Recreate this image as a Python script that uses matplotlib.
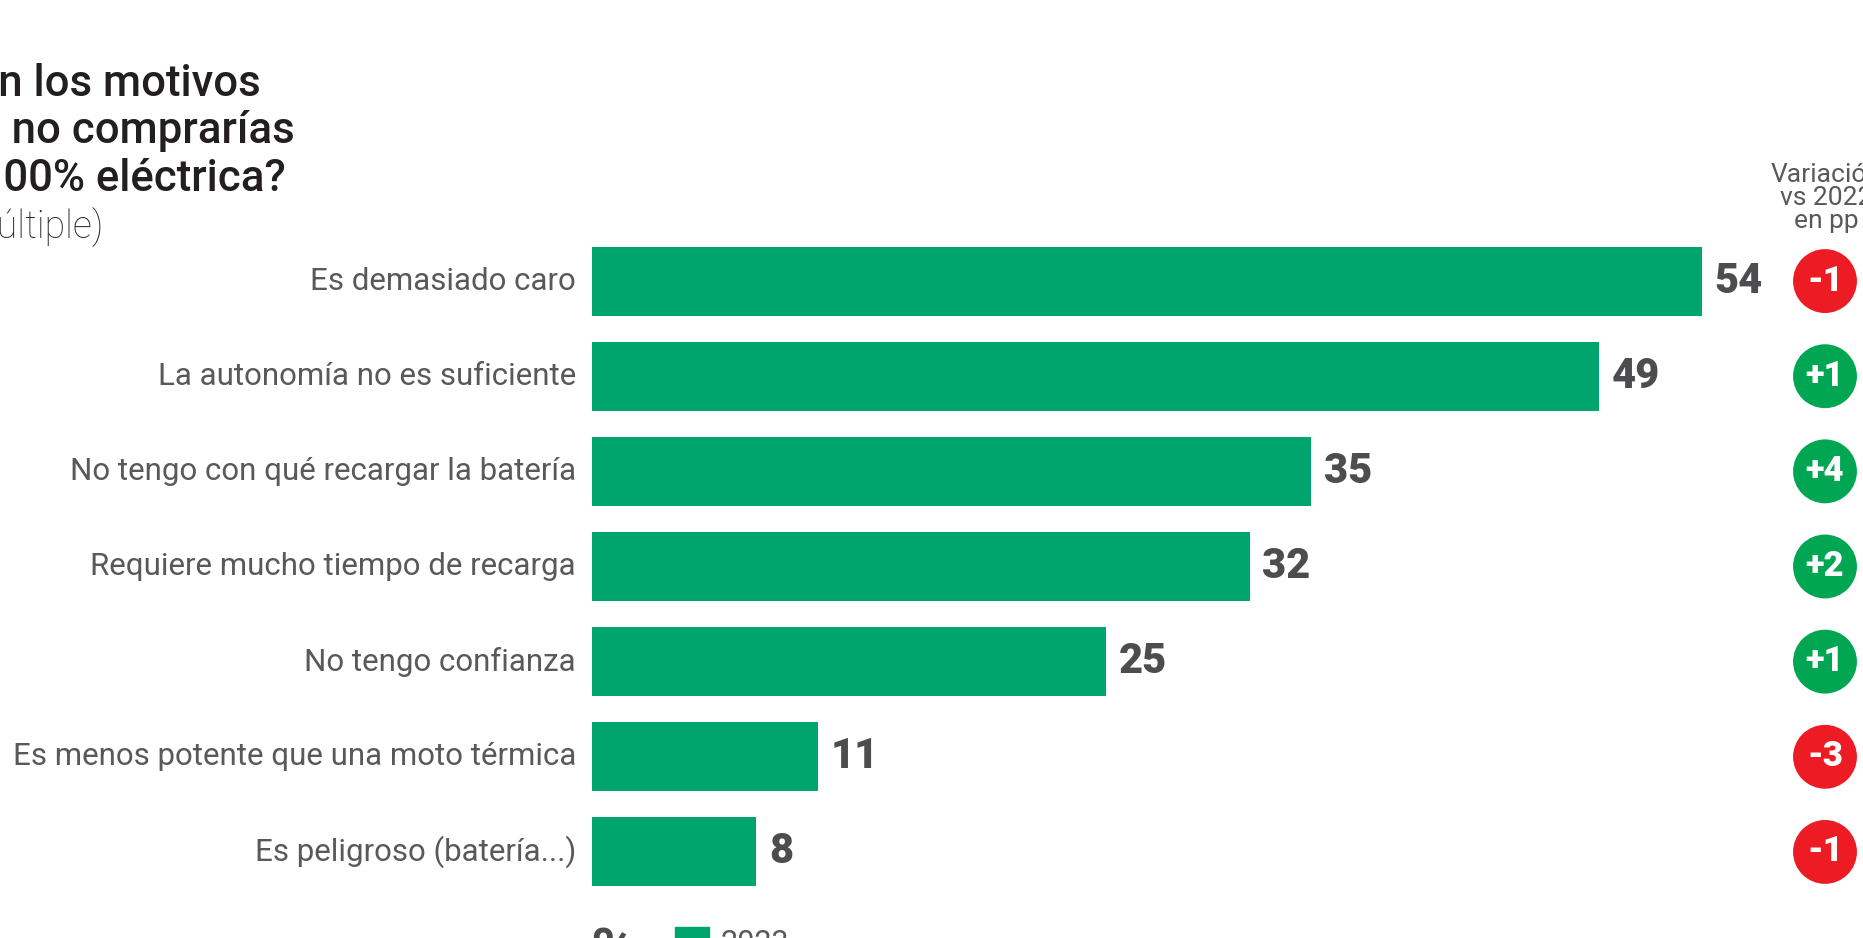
import matplotlib
matplotlib.use("Agg")
import matplotlib.pyplot as plt
from matplotlib.patches import Rectangle

plt.rcParams["font.family"] = ["Roboto", "DejaVu Sans"]

# datos
motivos = [
    "Es demasiado caro",
    "La autonomía no es suficiente",
    "No tengo con qué recargar la batería",
    "Requiere mucho tiempo de recarga",
    "No tengo confianza",
    "Es menos potente que una moto térmica",
    "Es peligroso (batería...)",
]
valores_2023 = [54, 49, 35, 32, 25, 11, 8]
variacion = [-1, 1, 4, 2, 1, -3, -1]

titulo = ["¿Cuáles son los motivos", "por los que no comprarías", "una moto 100% eléctrica?"]
subtitulo = "(Respuesta múltiple)"

# colores
verde_barra = "#00A56E"
verde = "#00A651"
rojo = "#ED1C24"
gris = "#58595B"
oscuro = "#231F20"

W, H = 1863, 938
fig = plt.figure(figsize=(W / 100, H / 100), dpi=100)


def fx(x):
    return x / W


def fy(y):
    return 1 - y / H


# ejes: x=0 en 592px, 54 -> ~1701px; filas de 281 a 852px
ax = fig.add_axes([fx(592), fy(899.5), (1701.7 - 592) / W, (899.5 - 233.5) / H])
filas = list(range(len(motivos)))
ax.barh(filas, valores_2023, height=0.725, color=verde_barra)
ax.set_xlim(0, 54)
ax.set_ylim(6.5, -0.5)
ax.set_yticks(filas, labels=motivos)
ax.tick_params(axis="y", length=0, pad=11.5, labelsize=22.5, labelcolor=gris)
for t in ax.get_yticklabels():
    t.set_verticalalignment("center")
ax.set_xticks([])
for s in ax.spines.values():
    s.set_visible(False)

# valores
for i, v in enumerate(valores_2023):
    ax.annotate(str(v), (v, i), xytext=(9, 0), textcoords="offset points",
                va="center", ha="left", fontsize=30, fontweight="heavy",
                color="#4D4D4F", annotation_clip=False)

# círculos de variación
trans = matplotlib.transforms.blended_transform_factory(fig.transFigure, ax.transData)
xc = fx(1825)
colores = [verde if d > 0 else rojo for d in variacion]
ax.scatter([xc] * len(filas), filas, s=2116, c=colores, transform=trans,
           clip_on=False, linewidths=0, zorder=3)
for i, d in enumerate(variacion):
    ax.text(xc, i, f"{d:+d}", transform=trans, ha="center", va="center",
            fontsize=25, fontweight="heavy", color="white", zorder=4, clip_on=False)

fig.text(fx(1826), fy(228), "Variación\nvs 2022\nen pp", ha="center", va="baseline",
         fontsize=19, color=gris, linespacing=0.95, multialignment="center")

# título (recortado a la izquierda)
for linea, xe, yb in zip(titulo, [261, 295, 286], [96, 143, 191]):
    fig.text(fx(xe), fy(yb), linea, ha="right", va="baseline", fontsize=31.5,
             fontweight="medium", color=oscuro)
fig.text(fx(103), fy(238), subtitulo, ha="right", va="baseline", fontsize=27,
         fontweight="light", color="#2b2b2b")

# leyenda (recortada abajo)
fig.text(fx(590), fy(926), "%", ha="left", va="top", fontsize=44,
         fontweight="bold", color="#4D4D4F")
fig.patches.append(Rectangle((fx(675), fy(962)), 34 / W, 35 / H,
                             transform=fig.transFigure, color=verde_barra))
fig.text(fx(721), fy(929), "2023", ha="left", va="top", fontsize=22,
         color=gris)

plt.savefig("out.png", dpi=100)
